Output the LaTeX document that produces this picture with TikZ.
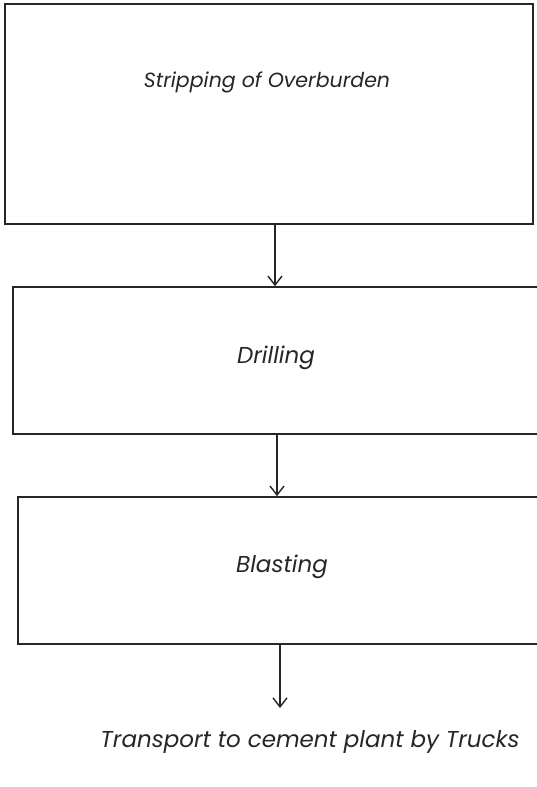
\documentclass[tikz,border=0pt]{standalone}
\usepackage{fontspec}
\setmainfont{Poppins}
\usetikzlibrary{arrows.meta}
\begin{document}
\begin{tikzpicture}[x=1pt,y=-1pt,
  box/.style={draw=black!85,line width=1.6pt,rectangle,inner sep=0pt},
  lbl/.style={font=\fontsize{23}{27}\selectfont\itshape,text=black!85,inner sep=0pt},
  arr/.style={draw=black!85,line width=1.4pt,-{Straight Barb[length=9pt,width=14pt,line width=1.4pt]}}]
\useasboundingbox[fill=white] (0,0) rectangle (536,787);
\node[box,minimum width=528pt,minimum height=220pt] (b1) at (269,114) {};
\node[box,minimum width=527pt,minimum height=147pt] (b2) at (276.5,360.5) {};
\node[box,minimum width=522pt,minimum height=147pt] (b3) at (279,570.5) {};
\node[lbl,font=\fontsize{20.5}{25}\selectfont\itshape] (t1) at (267,82) {Stripping of Overburden};
\node[lbl] (t2) at (276,358) {Drilling};
\node[lbl] (t3) at (282,567) {Blasting};
\node[lbl] (t4) at (310,742) {Transport to cement plant by Trucks};
\coordinate (c1) at (275,0);
\coordinate (c2) at (277,0);
\coordinate (c3) at (280,0);
\coordinate (e3) at (280,708);
\draw[arr] (b1.south -| c1) -- (b2.north -| c1);
\draw[arr] (b2.south -| c2) -- (b3.north -| c2);
\draw[arr] (b3.south -| c3) -- (e3);
\end{tikzpicture}
\end{document}
